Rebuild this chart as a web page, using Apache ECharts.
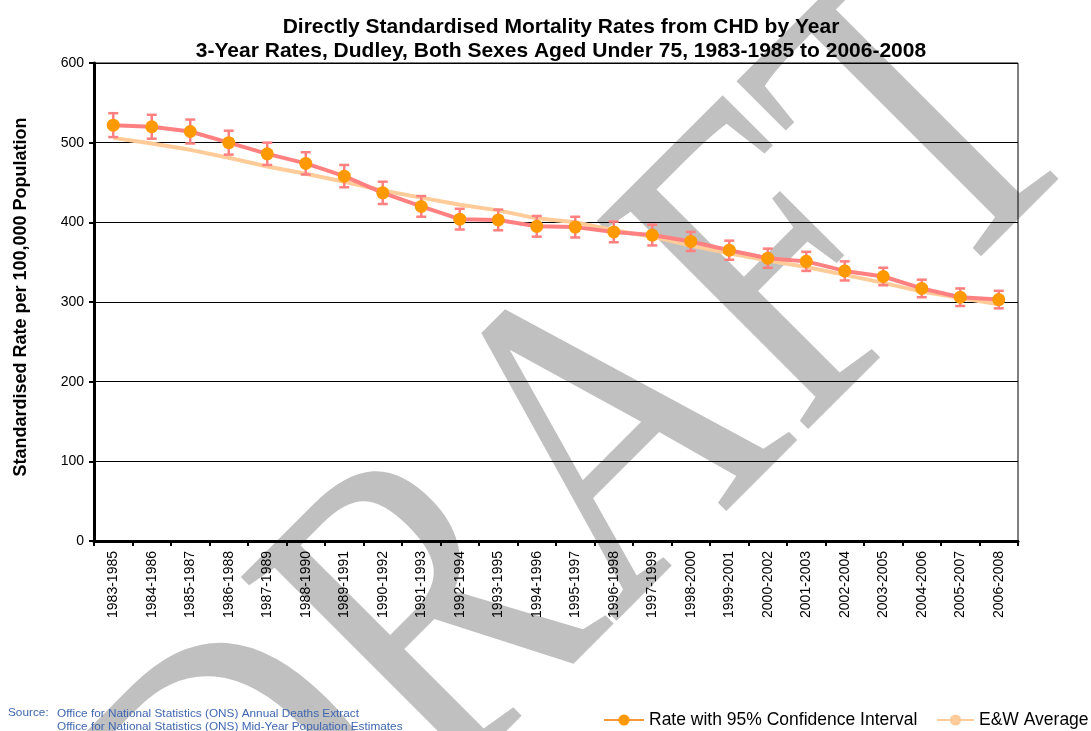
<!DOCTYPE html>
<html>
<head>
<meta charset="utf-8">
<title>CHD mortality rates, Dudley</title>
<script src="https://cdn.jsdelivr.net/npm/echarts@6/dist/echarts.min.js"></script>
<style>
  html, body { margin: 0; padding: 0; background: #fff; }
  #chart { width: 1091px; height: 731px; }
</style>
</head>
<body>
<div id="chart"></div>
<script>
// data
const periods = ['1983-1985', '1984-1986', '1985-1987', '1986-1988', '1987-1989', '1988-1990',
  '1989-1991', '1990-1992', '1991-1993', '1992-1994', '1993-1995', '1994-1996', '1995-1997',
  '1996-1998', '1997-1999', '1998-2000', '1999-2001', '2000-2002', '2001-2003', '2002-2004',
  '2003-2005', '2004-2006', '2005-2007', '2006-2008']
const dudleyRate = [522, 520, 514, 500, 486, 474, 458, 437, 420, 404, 403, 395,
  394, 388, 384, 376, 365, 355, 351, 339, 332, 317, 306, 303]
const ciLower = [507, 505, 499, 485, 472, 460, 444, 423, 407, 391, 390, 382,
  381, 375, 371, 364, 353, 343, 339, 327, 321, 306, 295, 292]
const ciUpper = [537, 535, 529, 515, 500, 488, 472, 451, 433, 417, 416, 408,
  407, 401, 397, 388, 377, 367, 363, 351, 343, 328, 317, 314]
const ewAverage = [506, 499, 491, 481, 470, 461, 451, 440, 431, 422, 415, 405,
  400, 390, 382, 371, 361, 352, 344, 334, 324, 313, 305, 297]
const yMin = 0
const yMax = 600
const yStep = 100

const font = 'Arial, "Liberation Sans", sans-serif'
const rateName = 'Rate with 95% Confidence Interval'
const ewName = 'E&W Average'
const legendText = { fontFamily: font, fontSize: 17.5, color: '#000' }

let myChart = echarts.init(document.getElementById('chart'))

let option = {
  animation: false,
  backgroundColor: '#fff',
  title: {
    text: 'Directly Standardised Mortality Rates from CHD by Year\n3-Year Rates, Dudley, Both Sexes Aged Under 75, 1983-1985 to 2006-2008',
    left: 556,
    textAlign: 'center',
    top: 10,
    textStyle: { fontFamily: font, fontSize: 21, fontWeight: 'bold', color: '#000', lineHeight: 24 }
  },
  grid: {
    left: 94, right: 73, top: 63, bottom: 190,
    show: true, borderColor: '#000', borderWidth: 1, backgroundColor: 'transparent'
  },
  // two legends so the pair sits on one line at the bottom right
  legend: [
    {
      data: [{ name: rateName, lineStyle: { color: '#f7983a' }, itemStyle: { color: '#ff9900' } }],
      left: 603, top: 711, padding: 0,
      itemWidth: 40, itemHeight: 14,
      textStyle: legendText
    },
    {
      data: [ewName],
      left: 936, top: 711, padding: 0,
      itemWidth: 37, itemHeight: 14,
      textStyle: legendText
    }
  ],
  xAxis: {
    type: 'category',
    data: periods,
    boundaryGap: true,
    axisLine: { lineStyle: { color: '#000', width: 3 } },
    axisTick: { show: true, interval: 0, length: 5, lineStyle: { color: '#000', width: 2 } },
    axisLabel: { interval: 0, rotate: 90, margin: 10, fontFamily: font, fontSize: 14, color: '#000' },
    splitLine: { show: false }
  },
  yAxis: {
    type: 'value',
    min: yMin, max: yMax, interval: yStep,
    axisLine: { show: true, lineStyle: { color: '#000', width: 3 } },
    axisTick: { show: true, length: 5, lineStyle: { color: '#000', width: 2 } },
    axisLabel: { margin: 10, fontFamily: font, fontSize: 14, color: '#000' },
    splitLine: { show: true, lineStyle: { color: '#000', width: 1 } }
  },
  graphic: [
    {
      // DRAFT watermark behind the chart
      type: 'text',
      x: 594, y: 475,
      rotation: Math.PI / 4,
      scaleX: 0.8,
      z: -100,
      silent: true,
      style: {
        text: 'DRAFT',
        fontFamily: '"Liberation Serif", "Times New Roman", serif',
        fontSize: 453,
        fill: '#c0c0c0',
        textAlign: 'center',
        textVerticalAlign: 'middle'
      }
    },
    {
      // y axis title
      type: 'text',
      x: 21, y: 297,
      rotation: Math.PI / 2,
      silent: true,
      style: {
        text: 'Standardised Rate per 100,000 Population',
        fontFamily: font, fontSize: 18, fontWeight: 'bold', fill: '#000',
        textAlign: 'center', textVerticalAlign: 'middle'
      }
    },
    {
      type: 'text', left: 8, top: 707, silent: true,
      style: { text: 'Source:', fontFamily: font, fontSize: 11.8, fill: '#3f67b1' }
    },
    {
      type: 'text', left: 57, top: 707, silent: true,
      style: {
        text: 'Office for National Statistics (ONS) Annual Deaths Extract\nOffice for National Statistics (ONS) Mid-Year Population Estimates',
        fontFamily: font, fontSize: 11.8, lineHeight: 13, fill: '#3f67b1'
      }
    }
  ],
  series: [
    {
      name: ewName,
      type: 'line',
      data: ewAverage,
      symbol: 'none',
      z: 2,
      lineStyle: { color: '#ffcc99', width: 4 },
      itemStyle: { color: '#ffcc99' }
    },
    {
      name: 'ci',
      type: 'custom',
      z: 3,
      data: periods.map((p, i) => [i, ciLower[i], ciUpper[i]]),
      renderItem: function (params, api) {
        let idx = api.value(0)
        let lo = api.coord([idx, api.value(1)])
        let hi = api.coord([idx, api.value(2)])
        let w = 5
        let st = { stroke: '#ff8080', lineWidth: 2.5 }
        return {
          type: 'group',
          children: [
            { type: 'line', shape: { x1: lo[0], y1: lo[1], x2: hi[0], y2: hi[1] }, style: st },
            { type: 'line', shape: { x1: lo[0] - w, y1: lo[1], x2: lo[0] + w, y2: lo[1] }, style: st },
            { type: 'line', shape: { x1: hi[0] - w, y1: hi[1], x2: hi[0] + w, y2: hi[1] }, style: st }
          ]
        }
      }
    },
    {
      name: rateName,
      type: 'line',
      data: dudleyRate,
      z: 4,
      symbol: 'circle',
      symbolSize: 13,
      lineStyle: { color: '#ff8080', width: 4 },
      itemStyle: { color: '#ff9900', borderWidth: 0 }
    }
  ]
}

myChart.setOption(option)
</script>
</body>
</html>
